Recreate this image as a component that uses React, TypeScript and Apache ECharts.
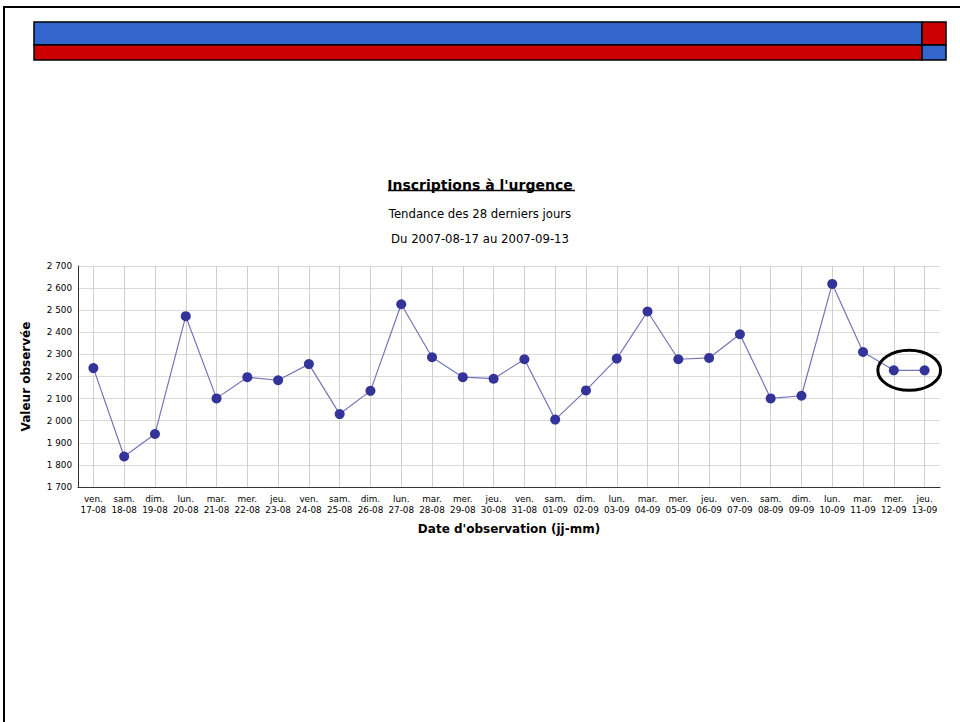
import React, { useEffect, useRef } from "react";
import * as echarts from "echarts";

const dayNames = [
  "ven.", "sam.", "dim.", "lun.", "mar.", "mer.", "jeu.",
  "ven.", "sam.", "dim.", "lun.", "mar.", "mer.", "jeu.",
  "ven.", "sam.", "dim.", "lun.", "mar.", "mer.", "jeu.",
  "ven.", "sam.", "dim.", "lun.", "mar.", "mer.", "jeu.",
];
const dates = [
  "17-08", "18-08", "19-08", "20-08", "21-08", "22-08", "23-08",
  "24-08", "25-08", "26-08", "27-08", "28-08", "29-08", "30-08",
  "31-08", "01-09", "02-09", "03-09", "04-09", "05-09", "06-09",
  "07-09", "08-09", "09-09", "10-09", "11-09", "12-09", "13-09",
];
const values = [
  2238, 1838, 1940, 2473, 2101, 2197, 2183,
  2256, 2030, 2135, 2527, 2287, 2197, 2190,
  2278, 2005, 2137, 2281, 2494, 2278, 2284,
  2391, 2101, 2113, 2619, 2311, 2228, 2228,
];
const yTicks = { min: 1700, max: 2700, interval: 100 };

const titleText = "Inscriptions à l'urgence";
const subtitle1 = "Tendance des 28 derniers jours";
const subtitle2 = "Du 2007-08-17 au 2007-09-13";
const yName = "Valeur observée";
const xName = "Date d'observation (jj-mm)";

const FONT = "'DejaVu Sans', Verdana, sans-serif";

export default function App() {
  const ref = useRef<HTMLDivElement>(null);
  useEffect(() => {
    if (!ref.current) return;
    const chart = echarts.init(ref.current, null, { renderer: "svg" });
    const categories = dates.map((d, i) => dayNames[i] + "\n" + d);
    const option: any = {
      animation: false,
      backgroundColor: "#ffffff",
      title: [
        {
          text: titleText,
          left: "center",
          top: 173,
          textStyle: { fontFamily: FONT, fontSize: 14, fontWeight: "bold", color: "#000" },
        },
        {
          text: subtitle1,
          left: "center",
          top: 203,
          textStyle: { fontFamily: FONT, fontSize: 11.7, fontWeight: "normal", color: "#000" },
        },
        {
          text: subtitle2,
          left: "center",
          top: 228,
          textStyle: { fontFamily: FONT, fontSize: 11.7, fontWeight: "normal", color: "#000" },
        },
      ],
      grid: { left: 78, right: 20, top: 266, bottom: 235, containLabel: false },
      xAxis: {
        type: "category",
        data: categories,
        boundaryGap: true,
        name: xName,
        nameLocation: "middle",
        nameGap: 36,
        nameTextStyle: { fontFamily: FONT, fontSize: 12, fontWeight: "bold", color: "#000" },
        axisLine: { show: true, lineStyle: { color: "#333", width: 1 } },
        axisTick: { show: false },
        axisLabel: {
          interval: 0,
          fontFamily: FONT,
          fontSize: 8.8,
          lineHeight: 11,
          color: "#000",
          margin: 6,
        },
        splitLine: { show: true, alignWithLabel: true, lineStyle: { color: "#d0d0d0", width: 1 } },
      },
      yAxis: {
        type: "value",
        min: yTicks.min,
        max: yTicks.max,
        interval: yTicks.interval,
        name: yName,
        nameLocation: "middle",
        nameGap: 46,
        nameRotate: 90,
        nameTextStyle: { fontFamily: FONT, fontSize: 12, fontWeight: "bold", color: "#000" },
        axisLine: { show: true, lineStyle: { color: "#333", width: 1 } },
        axisTick: { show: false },
        axisLabel: {
          fontFamily: FONT,
          fontSize: 8.8,
          color: "#000",
          margin: 6,
          formatter: (v: number) => String(v).replace(/\B(?=(\d{3})+(?!\d))/g, " "),
        },
        splitLine: { show: true, lineStyle: { color: "#d9d9d9", width: 1 } },
      },
      series: [
        {
          type: "line",
          data: values,
          symbol: "circle",
          symbolSize: 10,
          itemStyle: { color: "#333399" },
          lineStyle: { color: "#7474b8", width: 1.2 },
        },
      ],
    };
    chart.setOption(option);

    const p1 = chart.convertToPixel({ seriesIndex: 0 }, [values.length - 2, values[values.length - 2]]) as number[];
    const p2 = chart.convertToPixel({ seriesIndex: 0 }, [values.length - 1, values[values.length - 1]]) as number[];
    const cx = (p1[0] + p2[0]) / 2;
    const cy = (p1[1] + p2[1]) / 2;
    const rx = Math.abs(p2[0] - p1[0]) / 2 + 16;

    chart.setOption({
      graphic: [
        {
          type: "rect",
          shape: { x: 4, y: 7, width: 970, height: 730 },
          style: { fill: "none", stroke: "#000", lineWidth: 2 },
          silent: true,
        },
        {
          type: "rect",
          shape: { x: 34, y: 22, width: 888, height: 23 },
          style: { fill: "#3366cc", stroke: "#000", lineWidth: 1.5 },
        },
        {
          type: "rect",
          shape: { x: 34, y: 45, width: 888, height: 15 },
          style: { fill: "#cc0000", stroke: "#000", lineWidth: 1.5 },
        },
        {
          type: "rect",
          shape: { x: 922, y: 22, width: 24, height: 23 },
          style: { fill: "#cc0000", stroke: "#000", lineWidth: 1.5 },
        },
        {
          type: "rect",
          shape: { x: 922, y: 45, width: 24, height: 15 },
          style: { fill: "#3366cc", stroke: "#000", lineWidth: 1.5 },
        },
        {
          type: "line",
          shape: { x1: 388, y1: 190.5, x2: 575, y2: 190.5 },
          style: { stroke: "#000", lineWidth: 1.3 },
        },
        {
          type: "ellipse",
          shape: { cx, cy, rx, ry: 20 },
          style: { fill: "none", stroke: "#000", lineWidth: 3 },
          z: 100,
        },
      ],
    });
    return () => chart.dispose();
  }, []);
  return (
    <div
      ref={ref}
      style={{ position: "fixed", left: 0, top: 0, width: 960, height: 722 }}
    />
  );
}
